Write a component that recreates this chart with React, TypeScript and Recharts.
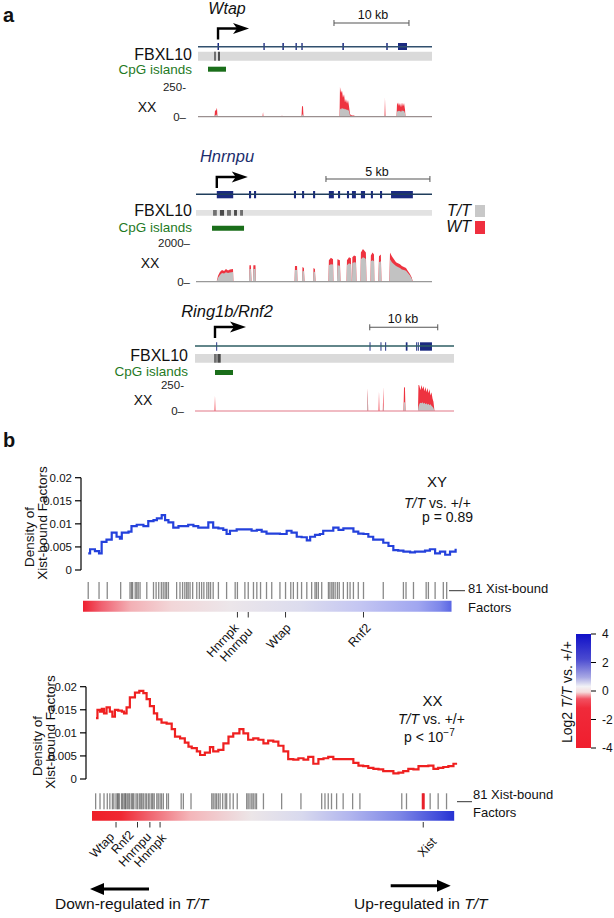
import React from "react";
import {
  ComposedChart,
  AreaChart,
  Area,
  Line,
  Scatter,
  XAxis,
  YAxis,
  ReferenceArea,
  ReferenceLine,
  ReferenceDot,
} from "recharts";

const FONT = "'Liberation Sans', Arial, Helvetica, sans-serif";

// ---------- panel a : gene windows, positions in kb from window start ----------
const wtapExons = [[2.6, 2.8], [8.72, 8.9], [11.25, 11.45], [13.0, 13.18], [13.78, 13.96], [19.25, 19.45], [25.1, 25.3], [26.67, 27.87]];
const wtapFbxl = [[2.13, 2.4], [2.67, 2.93]];
const wtapCpg = [1.33, 3.73];
const wtapPos = [0, 2.2, 2.27, 2.4, 2.53, 2.6, 8.6, 8.67, 8.73, 11.13, 11.2, 11.27, 13.8, 13.87, 14.0, 14.07, 18.87, 18.93, 19.07, 19.2, 19.33, 19.47, 19.6, 19.73, 19.87, 20.0, 20.13, 20.27, 20.53, 20.8, 21.07, 24.87, 24.93, 25.0, 26.47, 26.53, 26.67, 26.8, 26.93, 27.07, 27.2, 27.33, 27.47, 27.6, 27.67, 31.2];
const wtapWT = [0, 0, 55, 50, 75, 0, 0, 40, 0, 0, 12, 0, 0, 90, 85, 0, 0, 250, 200, 220, 160, 190, 120, 150, 110, 140, 90, 20, 10, 10, 0, 0, 160, 0, 0, 100, 120, 90, 115, 80, 120, 85, 115, 60, 0, 0];
const wtapTT = [0, 0, 15, 10, 20, 0, 0, 8, 0, 0, 5, 0, 0, 20, 15, 0, 0, 70, 60, 75, 65, 70, 60, 65, 55, 60, 45, 10, 5, 5, 0, 0, 30, 0, 0, 40, 50, 45, 50, 40, 55, 45, 50, 30, 0, 0];

const hnrnpuExons = [[1.0, 1.79], [2.55, 2.65], [2.79, 2.89], [4.71, 4.81], [5.1, 5.2], [5.63, 5.73], [6.39, 6.63], [6.83, 6.93], [7.26, 7.36], [7.5, 7.69], [7.93, 8.13], [8.41, 8.51], [8.85, 8.95], [9.38, 10.43]];
const hnrnpuFbxl = [[0.82, 1.0], [1.15, 1.35], [1.49, 1.68], [1.83, 1.97], [2.12, 2.26]];
const hnrnpuCpg = [0.77, 2.31];
const hnrnpuPos = [0, 0.99, 1.06, 1.15, 1.25, 1.35, 1.44, 1.54, 1.63, 1.78, 1.8, 2.55, 2.57, 2.64, 2.67, 2.74, 2.76, 2.86, 2.88, 4.74, 4.76, 4.86, 4.88, 5.1, 5.12, 5.19, 5.22, 5.63, 5.65, 5.72, 5.75, 6.37, 6.39, 6.49, 6.59, 6.61, 6.78, 6.8, 6.92, 6.95, 7.24, 7.26, 7.36, 7.45, 7.48, 7.5, 7.52, 7.6, 7.69, 7.72, 7.91, 7.93, 8.03, 8.13, 8.17, 8.2, 8.39, 8.41, 8.49, 8.56, 8.58, 8.77, 8.8, 8.89, 8.92, 9.3, 9.33, 9.42, 9.52, 9.62, 9.71, 9.81, 9.9, 10.0, 10.1, 10.19, 10.29, 10.38, 10.43, 11.35];
const hnrnpuWT = [0, 0, 300, 500, 600, 550, 650, 580, 620, 650, 0, 0, 850, 850, 0, 0, 850, 850, 0, 0, 800, 800, 0, 0, 750, 700, 0, 0, 700, 650, 0, 0, 1100, 1230, 1150, 0, 0, 1150, 1100, 0, 0, 1100, 1250, 1200, 0, 0, 1250, 1350, 1300, 0, 0, 1500, 1680, 1550, 1500, 0, 0, 1350, 1500, 1400, 0, 0, 1300, 1400, 0, 0, 1500, 1300, 1150, 1000, 950, 900, 800, 750, 700, 550, 400, 200, 0, 0];
const hnrnpuTT = [0, 0, 200, 350, 450, 420, 480, 450, 470, 500, 0, 0, 650, 650, 0, 0, 650, 650, 0, 0, 600, 600, 0, 0, 560, 540, 0, 0, 520, 500, 0, 0, 850, 900, 880, 0, 0, 850, 820, 0, 0, 850, 950, 900, 0, 0, 950, 1000, 980, 0, 0, 1150, 1250, 1200, 1150, 0, 0, 1050, 1100, 1050, 0, 0, 1000, 1050, 0, 0, 1150, 1000, 900, 800, 750, 700, 620, 600, 560, 440, 320, 150, 0, 0];

const ring1bExons = [[3.12, 3.26], [25.67, 25.81], [27.28, 27.42], [27.97, 28.11], [31.0, 31.25], [32.53, 32.67], [32.77, 32.91], [33.09, 34.85]];
const ring1bFbxl = [[2.8, 3.2], [3.3, 3.78]];
const ring1bCpg = [2.94, 5.59];
const ring1bPos = [0, 2.87, 2.94, 3.01, 25.32, 25.4, 25.47, 26.99, 27.06, 27.13, 27.62, 27.69, 27.76, 30.66, 30.74, 30.88, 30.96, 32.79, 32.87, 33.01, 33.16, 33.31, 33.46, 33.6, 33.75, 33.9, 34.04, 34.19, 34.34, 34.49, 34.63, 34.78, 34.93, 35.07, 35.22, 38.09];
const ring1bWT = [0, 0, 150, 0, 0, 220, 0, 0, 190, 0, 0, 233, 0, 0, 233, 220, 0, 0, 265, 240, 200, 250, 210, 240, 190, 230, 180, 220, 170, 210, 150, 180, 120, 90, 0, 0];
const ring1bTT = [0, 0, 0, 0, 0, 200, 0, 0, 0, 0, 0, 60, 0, 0, 90, 80, 0, 0, 40, 70, 80, 75, 85, 70, 80, 65, 75, 60, 70, 55, 65, 50, 40, 30, 0, 0];

// ---------- panel b : density along the ranked gene list (0-100 %) ----------
const xyRank = [1.4, 1.9, 3.2, 4.3, 5.0, 6.3, 7.7, 9.0, 9.9, 10.4, 12.2, 13.0, 14.4, 16.2, 17.5, 18.9, 19.8, 21.1, 22.0, 22.9, 24.2, 25.6, 26.9, 28.2, 29.6, 30.9, 32.3, 33.6, 34.9, 36.3, 37.6, 38.5, 39.4, 41.2, 42.5, 43.9, 45.2, 46.6, 47.9, 49.2, 51.0, 52.8, 54.6, 55.9, 57.3, 58.6, 60.0, 60.9, 62.2, 63.5, 64.4, 65.8, 67.1, 68.5, 69.8, 71.1, 72.5, 73.8, 75.2, 76.5, 77.8, 79.2, 80.5, 81.9, 83.2, 84.5, 85.9, 87.7, 89.0, 90.3, 91.7, 93.0, 94.4, 95.7, 97.1, 98.4, 99.9];
const xyDensity = [0.0036, 0.0045, 0.0041, 0.0036, 0.0061, 0.0066, 0.0081, 0.0072, 0.0068, 0.0081, 0.0083, 0.0095, 0.0098, 0.0095, 0.0106, 0.0108, 0.0112, 0.0119, 0.0108, 0.0103, 0.0092, 0.0095, 0.0095, 0.0098, 0.0095, 0.0092, 0.0092, 0.0103, 0.0092, 0.009, 0.0087, 0.0078, 0.0085, 0.0088, 0.0088, 0.0088, 0.0085, 0.0087, 0.0083, 0.0079, 0.0079, 0.0078, 0.0085, 0.0081, 0.0072, 0.0071, 0.0064, 0.0072, 0.0076, 0.0078, 0.0085, 0.0085, 0.0092, 0.0087, 0.009, 0.009, 0.0083, 0.0079, 0.0078, 0.0072, 0.0066, 0.0066, 0.0059, 0.0052, 0.0043, 0.0042, 0.004, 0.0038, 0.004, 0.004, 0.0042, 0.0045, 0.0036, 0.004, 0.0033, 0.004, 0.0046];

const xxRank = [1.1, 1.5, 2.2, 2.7, 3.3, 4.0, 4.9, 5.6, 6.3, 7.2, 8.2, 8.8, 9.5, 10.4, 11.8, 13.0, 14.1, 15.0, 15.9, 17.0, 17.9, 19.1, 20.5, 21.9, 22.8, 24.2, 25.5, 26.5, 27.4, 28.8, 29.7, 31.0, 32.4, 33.3, 34.7, 36.1, 37.5, 38.8, 40.5, 41.6, 42.9, 44.3, 45.7, 47.1, 48.4, 49.8, 51.2, 52.6, 53.9, 55.3, 56.7, 58.1, 59.4, 60.8, 62.2, 63.6, 64.9, 66.3, 67.7, 69.0, 70.4, 71.8, 73.2, 74.5, 75.9, 77.3, 78.7, 80.0, 81.4, 82.8, 84.2, 85.5, 86.9, 88.3, 89.7, 91.0, 92.4, 93.8, 95.1, 96.5, 97.9, 99.3, 100.0];
const xxDensity = [0.0132, 0.015, 0.0146, 0.0152, 0.0142, 0.0155, 0.0146, 0.0135, 0.015, 0.0148, 0.0146, 0.0142, 0.0155, 0.0177, 0.0187, 0.0191, 0.0186, 0.0173, 0.0158, 0.0142, 0.0129, 0.0122, 0.012, 0.0108, 0.0092, 0.0088, 0.0079, 0.007, 0.0067, 0.006, 0.0052, 0.0057, 0.0069, 0.006, 0.0063, 0.0077, 0.0092, 0.0099, 0.0108, 0.0099, 0.0085, 0.0088, 0.0085, 0.0077, 0.0083, 0.0081, 0.0072, 0.006, 0.0043, 0.0042, 0.0045, 0.0042, 0.0048, 0.0033, 0.0043, 0.0045, 0.0048, 0.0043, 0.0043, 0.0043, 0.0043, 0.0035, 0.0029, 0.0028, 0.0024, 0.0022, 0.0021, 0.0017, 0.0017, 0.0012, 0.0014, 0.0017, 0.0022, 0.0021, 0.0028, 0.0028, 0.0029, 0.0022, 0.0024, 0.0026, 0.0028, 0.0033, 0.0035];

// rank (%) of the 81 Xist-bound factors
const xyFactorRanks = [1.4, 4.3, 6.5, 10.1, 12.6, 13.0, 13.3, 14.0, 14.4, 14.8, 15.3, 17.1, 18.9, 19.6, 20.3, 21.0, 21.5, 22.0, 22.4, 22.9, 25.1, 26.0, 26.7, 27.3, 27.8, 28.2, 28.7, 29.4, 30.5, 31.2, 31.8, 32.4, 33.2, 33.7, 34.2, 34.9, 36.3, 38.5, 40.8, 41.4, 43.4, 44.3, 45.7, 46.6, 47.6, 49.2, 50.6, 52.8, 54.3, 55.7, 56.4, 57.5, 58.6, 60.0, 61.3, 62.2, 62.6, 63.1, 64.0, 65.8, 66.2, 66.7, 67.1, 67.6, 68.2, 68.7, 69.8, 70.9, 71.6, 72.5, 73.8, 75.2, 80.5, 85.9, 86.6, 88.6, 92.0, 92.6, 94.4, 96.6, 97.5];
const xxFactorRanks = [1.0, 2.2, 3.3, 4.2, 4.9, 5.6, 6.0, 6.6, 7.0, 7.2, 7.5, 8.1, 8.4, 8.8, 9.1, 9.3, 9.7, 10.1, 10.4, 10.9, 11.2, 11.5, 12.1, 12.5, 13.0, 13.4, 13.7, 14.1, 14.6, 15.0, 15.5, 15.9, 16.4, 16.7, 17.1, 17.8, 18.2, 18.7, 19.1, 19.6, 20.5, 21.0, 24.5, 25.1, 27.2, 32.9, 33.3, 33.8, 34.2, 34.7, 35.2, 35.9, 36.6, 37.0, 37.9, 38.8, 39.9, 42.5, 42.9, 43.4, 43.9, 44.3, 44.8, 45.2, 47.1, 52.1, 57.4, 63.1, 64.0, 64.9, 65.8, 67.2, 69.0, 71.6, 73.6, 85.1, 86.4, 91.0, 92.9, 95.1, 97.4];
const xyGeneNames = ["Hnrnpk", "Hnrnpu", "Wtap", "Rnf2"];
const xyGeneRanks = [41.4, 44.3, 54.3, 75.2];
const xxGeneNames = ["Wtap", "Rnf2", "Hnrnpu", "Hnrnpk", "Xist"];
const xxGeneRanks = [6.6, 12.5, 15.9, 18.7, 91.0];
const xistRank = 91.0;

const colorbarTicks = [-4, -2, 0, 2, 4];

// label offsets (px) from the bottom of each gene tick
const xyLabelShift = [[2, 11], [5, 15], [6, 11], [8, 11]];
const xxLabelShift = [[-1, 10], [-3, 8], [2, 10], [7, 11], [14, 15]];

const Invisible = () => <g />;

// ---------- helpers ----------
function TssArrow(props: any) {
  const { cx, cy } = props;
  const t = cy - 11;
  return (
    <g>
      <path d={`M${cx},${cy} V${t} H${cx + 20}`} stroke="#000" strokeWidth={2.4} fill="none" />
      <path d={`M${cx + 31},${t} L${cx + 15},${t - 5.5} L${cx + 19},${t} L${cx + 15},${t + 5.5} Z`} fill="#000" />
    </g>
  );
}

function GeneModel(p: any) {
  const { top, height, x0, x1, len, rows, exons, fbxl, cpg, tss, scale, lineColor, fbxlShade } = p;
  const anchor = exons.map((e: number[]) => ({ x: (e[0] + e[1]) / 2, y: rows.gene }));
  return (
    <div style={{ position: "absolute", left: 0, top }}>
      <ComposedChart width={614} height={height} data={anchor} margin={{ top: 0, right: 614 - x1, bottom: 0, left: x0 }}>
        <XAxis type="number" dataKey="x" domain={[0, len]} hide />
        <YAxis type="number" dataKey="y" domain={[0, height]} reversed hide width={0} />
        <Scatter dataKey="y" shape={Invisible} isAnimationActive={false} />
        <ReferenceLine segment={[{ x: scale[0], y: rows.scale }, { x: scale[1], y: rows.scale }]} stroke="#555" strokeWidth={1.1} />
        <ReferenceLine segment={[{ x: scale[0], y: rows.scale - 3 }, { x: scale[0], y: rows.scale + 3 }]} stroke="#555" />
        <ReferenceLine segment={[{ x: scale[1], y: rows.scale - 3 }, { x: scale[1], y: rows.scale + 3 }]} stroke="#555" />
        <ReferenceArea x1={0} x2={len} y1={rows.fbxl[0]} y2={rows.fbxl[1]} fill={fbxlShade} fillOpacity={1} />
        {fbxl.map((m: number[], i: number) => (
          <ReferenceArea key={"f" + i} x1={m[0]} x2={m[1]} y1={rows.fbxl[0]} y2={rows.fbxl[1]} fill={i % 2 ? "#4a4a4a" : "#707070"} fillOpacity={1} />
        ))}
        <ReferenceArea x1={cpg[0]} x2={cpg[1]} y1={rows.cpg[0]} y2={rows.cpg[1]} fill="#1a6e1a" fillOpacity={1} />
        <ReferenceLine segment={[{ x: 0, y: rows.gene }, { x: len, y: rows.gene }]} stroke={lineColor} strokeWidth={1.4} />
        {exons.map((e: number[], i: number) => (
          <ReferenceArea key={"e" + i} x1={e[0]} x2={e[1]} y1={rows.exon[0]} y2={rows.exon[1]} fill="#1b2a80" fillOpacity={1} />
        ))}
        <ReferenceDot x={tss} y={rows.arrow} shape={TssArrow} />
      </ComposedChart>
    </div>
  );
}

function Coverage(p: any) {
  const { top, height, mTop, mBottom, x0, x1, len, max, pos, wt, tt, fmtTop, fmtZero, gap, baseColor } = p;
  const data = pos.map((x: number, i: number) => ({ x, wt: wt[i], tt: tt[i] }));
  return (
    <div style={{ position: "absolute", left: 0, top }}>
      <AreaChart width={614} height={height} data={data} margin={{ top: mTop, right: 614 - x1, bottom: mBottom, left: x0 - 40 }}>
        <XAxis type="number" dataKey="x" domain={[0, len]} hide />
        <YAxis
          width={40}
          type="number"
          domain={[0, max]}
          ticks={[0, max]}
          interval={0}
          allowDataOverflow
          tickFormatter={(v: number) => (v === 0 ? fmtZero : fmtTop)}
          axisLine={false}
          tickLine={false}
          tickSize={0}
          tickMargin={gap}
          tick={{ fontSize: 11.5, fill: "#222" }}
        />
        <Area type="linear" dataKey="wt" stroke="none" fill="#ee3340" fillOpacity={1} isAnimationActive={false} />
        <Area type="linear" dataKey="tt" stroke="none" fill="#c2c2c2" fillOpacity={1} isAnimationActive={false} />
        <ReferenceLine y={0} stroke={baseColor} strokeWidth={1.2} />
      </AreaChart>
    </div>
  );
}

function Density(p: any) {
  const { top, height, mTop, mBottom, axisW, pad, xs, ys, color } = p;
  const data = xs.map((x: number, i: number) => ({ x, y: ys[i] }));
  return (
    <div style={{ position: "absolute", left: 0, top }}>
      <ComposedChart width={614} height={height} data={data} margin={{ top: mTop, right: 158, bottom: mBottom, left: 0 }}>
        <XAxis type="number" dataKey="x" domain={[0, 100]} hide padding={{ left: pad, right: 0 }} />
        <YAxis
          width={axisW}
          type="number"
          domain={[0, 0.02]}
          ticks={[0, 0.005, 0.01, 0.015, 0.02]}
          interval={0}
          tickFormatter={(v: number) => String(v)}
          axisLine={{ stroke: "#000", strokeWidth: 1.2 }}
          tickLine={{ stroke: "#000", strokeWidth: 1.2 }}
          tickSize={6}
          tickMargin={3}
          tick={{ fontSize: 11.5, fill: "#111" }}
        />
        <Line type="stepAfter" dataKey="y" stroke={color} strokeWidth={2.2} dot={false} isAnimationActive={false} />
      </ComposedChart>
    </div>
  );
}

function FactorStrip(p: any) {
  const { top, left, ranks, names, geneRanks, shifts, rows, barEnd, gradId, stops, xist } = p;
  const tickData = ranks.map((x: number) => ({ x, y: rows.tick[0] }));
  const geneData = geneRanks.map((x: number, i: number) => ({ x, y: rows.mark, name: names[i], i }));
  const tickLen = rows.tick[1] - rows.tick[0];
  return (
    <div style={{ position: "absolute", left: 0, top }}>
      <ComposedChart width={614} height={95} margin={{ top: 0, right: 158, bottom: 0, left }}>
        <defs>
          <linearGradient id={gradId} x1="0" y1="0" x2="1" y2="0">
            {stops.map((s: any[], i: number) => (
              <stop key={i} offset={s[0]} stopColor={s[1]} />
            ))}
          </linearGradient>
        </defs>
        <XAxis type="number" dataKey="x" domain={[0, 100]} hide />
        <YAxis type="number" dataKey="y" domain={[0, 95]} reversed hide width={0} />
        <ReferenceArea x1={0} x2={barEnd} y1={rows.bar[0]} y2={rows.bar[1]} fill={`url(#${gradId})`} fillOpacity={1} />
        <Scatter
          data={tickData}
          isAnimationActive={false}
          shape={(s: any) => (
            <line x1={s.cx} x2={s.cx} y1={s.cy} y2={s.cy + tickLen} stroke="#3a3a3a" strokeOpacity={0.6} strokeWidth={1.3} />
          )}
        />
        {xist !== undefined && (
          <Scatter
            data={[{ x: xist, y: rows.tick[0] }]}
            isAnimationActive={false}
            shape={(s: any) => (
              <line x1={s.cx} x2={s.cx} y1={s.cy} y2={s.cy + tickLen} stroke="#e8202a" strokeWidth={3} />
            )}
          />
        )}
        <Scatter
          data={geneData}
          isAnimationActive={false}
          shape={(s: any) => {
            const { name, i } = s.payload;
            const ax = s.cx + shifts[i][0];
            const ay = s.cy + 5.5 + shifts[i][1];
            return (
              <g>
                <line x1={s.cx} x2={s.cx} y1={s.cy} y2={s.cy + 5.5} stroke="#333" strokeWidth={1} />
                <text x={ax} y={ay} textAnchor="end" fontSize={12.5} fill="#111" transform={`rotate(-47, ${ax}, ${ay})`}>
                  {name}
                </text>
              </g>
            );
          }}
        />
      </ComposedChart>
    </div>
  );
}

const topStops = [["0%", "#ee2030"], ["5%", "#f06070"], ["13%", "#f3b0b5"], ["24%", "#f2d6d8"], ["40%", "#ece6ea"], ["59%", "#dcdcee"], ["75%", "#c4c6f2"], ["91%", "#a0a6f0"], ["97%", "#7c86ea"], ["100%", "#5a66e4"]];
const bottomStops = [["0%", "#ee1f28"], ["8%", "#f02833"], ["16%", "#f06570"], ["27%", "#f4b5b9"], ["44%", "#ece6e8"], ["58%", "#d8d9ee"], ["71%", "#b2b6ee"], ["85%", "#7d86e6"], ["96%", "#3f4bda"], ["100%", "#2632d2"]];

export default function App() {
  const keyAnchor = colorbarTicks.map((v) => ({ x: 0.5, y: v }));
  return (
    <div style={{ position: "absolute", left: 0, top: 0, width: 614, height: 918, background: "#fff", fontFamily: FONT, overflow: "hidden" }}>
      {/* panel a */}
      <GeneModel
        top={0} height={75} x0={198} x1={432} len={31.2}
        rows={{ scale: 23, arrow: 39.5, gene: 46.7, exon: [43, 50], fbxl: [51.7, 60.7], cpg: [66.7, 71.7] }}
        exons={wtapExons} fbxl={wtapFbxl} cpg={wtapCpg} tss={2.67} scale={[18.13, 28.13]}
        lineColor="#31506e" fbxlShade="#dadada"
      />
      <Coverage top={80} height={45} mTop={7} mBottom={8.3} x0={198} x1={432} len={31.2} max={250}
        pos={wtapPos} wt={wtapWT} tt={wtapTT} fmtTop="250-" fmtZero="0–" gap={12} baseColor="#9a8f8f" />

      <GeneModel
        top={130} height={105} x0={196} x1={432} len={11.35}
        rows={{ scale: 49, arrow: 58, gene: 64.3, exon: [61, 68.3], fbxl: [80, 85.7], cpg: [95.7, 100.7] }}
        exons={hnrnpuExons} fbxl={hnrnpuFbxl} cpg={hnrnpuCpg} tss={1.0} scale={[6.25, 11.25]}
        lineColor="#1f3d5c" fbxlShade="#e2e2e2"
      />
      <Coverage top={235} height={55} mTop={7.7} mBottom={8.3} x0={196} x1={432} len={11.35} max={2000}
        pos={hnrnpuPos} wt={hnrnpuWT} tt={hnrnpuTT} fmtTop="2000–" fmtZero="0–" gap={6} baseColor="#999" />

      <GeneModel
        top={290} height={90} x0={195} x1={454} len={38.09}
        rows={{ scale: 37.3, arrow: 48, gene: 56, exon: [52.3, 60.7], fbxl: [64, 72.7], cpg: [80, 85] }}
        exons={ring1bExons} fbxl={ring1bFbxl} cpg={ring1bCpg} tss={2.94} scale={[25.7, 35.7]}
        lineColor="#2e5e63" fbxlShade="#dadada"
      />
      <Coverage top={378} height={41} mTop={7} mBottom={8} x0={195} x1={454} len={38.09} max={250}
        pos={ring1bPos} wt={ring1bWT} tt={ring1bTT} fmtTop="250-" fmtZero="0–" gap={11} baseColor="#e27887" />

      {/* panel b */}
      <Density top={470} height={105} mTop={7.7} mBottom={5} axisW={81} pad={2} xs={xyRank} ys={xyDensity} color="#2441dc" />
      <FactorStrip top={575} left={83} ranks={xyFactorRanks} names={xyGeneNames} geneRanks={xyGeneRanks} shifts={xyLabelShift}
        rows={{ tick: [7, 24], bar: [25.7, 36.7], mark: 37 }} barEnd={98.8} gradId="gTop" stops={topStops} />

      <Density top={680} height={104} mTop={6.7} mBottom={5} axisW={86} pad={6} xs={xxRank} ys={xxDensity} color="#ef2020" />
      <FactorStrip top={785} left={92} ranks={xxFactorRanks} names={xxGeneNames} geneRanks={xxGeneRanks} shifts={xxLabelShift}
        rows={{ tick: [8.3, 24.3], bar: [26, 35.7], mark: 37 }} barEnd={99.5} gradId="gBottom" stops={bottomStops}
        xist={xistRank} />

      {/* colour key */}
      <div style={{ position: "absolute", left: 540, top: 620 }}>
        <ComposedChart width={74} height={145} data={keyAnchor} margin={{ top: 14, right: 0, bottom: 17, left: 36 }}>
          <defs>
            <linearGradient id="gKey" x1="0" y1="0" x2="0" y2="1">
              <stop offset="0%" stopColor="#1010c8" />
              <stop offset="22%" stopColor="#4a4ad0" />
              <stop offset="38%" stopColor="#a8a8e4" />
              <stop offset="46%" stopColor="#f2f2f6" />
              <stop offset="51%" stopColor="#f6dcdc" />
              <stop offset="57%" stopColor="#f25060" />
              <stop offset="65%" stopColor="#f02a3a" />
              <stop offset="100%" stopColor="#f01e2e" />
            </linearGradient>
          </defs>
          <XAxis type="number" dataKey="x" domain={[0, 1]} hide />
          <YAxis orientation="right" type="number" dataKey="y" domain={[-4, 4]} ticks={colorbarTicks} interval={0} width={23}
            axisLine={false} tickSize={5} tickMargin={6} tickLine={{ stroke: "#000" }} tick={{ fontSize: 12, fill: "#111" }} />
          <ReferenceArea x1={0} x2={1} y1={-4} y2={4} fill="url(#gKey)" fillOpacity={1} />
          <Scatter dataKey="y" shape={Invisible} isAnimationActive={false} />
        </ComposedChart>
      </div>

      {/* text and annotation layer */}
      <svg width={614} height={918} style={{ position: "absolute", left: 0, top: 0, pointerEvents: "none" }} fontFamily={FONT} fill="#111">
        <text x={3} y={22} fontSize={20} fontWeight="bold">a</text>
        <text x={3} y={447} fontSize={20} fontWeight="bold">b</text>

        <text x={227} y={14} textAnchor="middle" fontSize={16} fontStyle="italic">Wtap</text>
        <text x={373} y={19} textAnchor="middle" fontSize={12.5}>10 kb</text>
        <text x={192} y={60} textAnchor="end" fontSize={16}>FBXL10</text>
        <text x={192} y={73.5} textAnchor="end" fontSize={13.5} fill="#1f7a1f">CpG islands</text>
        <text x={147} y={111.7} textAnchor="middle" fontSize={14}>XX</text>

        <text x={227} y={162} textAnchor="middle" fontSize={16.5} fontStyle="italic" fill="#1c2e6e">Hnrnpu</text>
        <text x={377} y={175.5} textAnchor="middle" fontSize={12.5}>5 kb</text>
        <text x={192} y={216} textAnchor="end" fontSize={16}>FBXL10</text>
        <text x={192} y={231.7} textAnchor="end" fontSize={13.5} fill="#1f7a1f">CpG islands</text>
        <text x={150} y={268.3} textAnchor="middle" fontSize={14}>XX</text>
        <text x={471} y={216} textAnchor="end" fontSize={16} fontStyle="italic">T/T</text>
        <rect x={475} y={205} width={10} height={12} fill="#c8c8c8" />
        <text x={471} y={232} textAnchor="end" fontSize={16} fontStyle="italic">WT</text>
        <rect x={475} y={221} width={10} height={13} fill="#ef2f3f" />

        <text x={227} y={316.7} textAnchor="middle" fontSize={16.5} fontStyle="italic">Ring1b/Rnf2</text>
        <text x={403} y={323} textAnchor="middle" fontSize={12.5}>10 kb</text>
        <text x={188} y={361} textAnchor="end" fontSize={16}>FBXL10</text>
        <text x={188} y={375.7} textAnchor="end" fontSize={13.5} fill="#1f7a1f">CpG islands</text>
        <text x={143} y={405} textAnchor="middle" fontSize={14}>XX</text>

        <text transform="translate(34,537) rotate(-90)" textAnchor="middle" fontSize={13.5}>Density of</text>
        <text transform="translate(47,523) rotate(-90)" textAnchor="middle" fontSize={13.5}>Xist-bound Factors</text>
        <text x={437} y={486.7} textAnchor="middle" fontSize={15}>XY</text>
        <text x={404} y={507.5} fontSize={14}><tspan fontStyle="italic">T/T</tspan> vs. +/+</text>
        <text x={473} y={522} textAnchor="end" fontSize={14}>p = 0.89</text>
        <line x1={449} x2={465} y1={590.7} y2={590.7} stroke="#333" strokeWidth={1} />
        <text x={468} y={593} fontSize={13}>81 Xist-bound</text>
        <text x={468} y={611.7} fontSize={13}>Factors</text>

        <text transform="translate(42,746) rotate(-90)" textAnchor="middle" fontSize={13.5}>Density of</text>
        <text transform="translate(55,732) rotate(-90)" textAnchor="middle" fontSize={13.5}>Xist-bound Factors</text>
        <text x={432.5} y={706} textAnchor="middle" fontSize={15}>XX</text>
        <text x={398} y={724} fontSize={14}><tspan fontStyle="italic">T/T</tspan> vs. +/+</text>
        <text x={404} y={742} fontSize={14}>p &lt; 10<tspan dy={-6} fontSize={10}>−7</tspan></text>
        <line x1={457} x2={472} y1={801.7} y2={801.7} stroke="#333" strokeWidth={1} />
        <text x={473} y={799.3} fontSize={13}>81 Xist-bound</text>
        <text x={473} y={816.7} fontSize={13}>Factors</text>

        <text transform="translate(572,692) rotate(-90)" textAnchor="middle" fontSize={14}>
          Log2 <tspan fontStyle="italic">T/T</tspan> vs. +/+
        </text>

        <line x1={149} x2={100} y1={889} y2={889} stroke="#000" strokeWidth={3} />
        <polygon points="90,889 104,883 104,895" fill="#000" />
        <line x1={390.7} x2={440} y1={885.7} y2={885.7} stroke="#000" strokeWidth={3} />
        <polygon points="450.7,885.7 437,879.7 437,891.7" fill="#000" />
        <text x={55} y={909} fontSize={15.5}>Down-regulated in <tspan fontStyle="italic">T/T</tspan></text>
        <text x={354} y={909} fontSize={15.5}>Up-regulated in <tspan fontStyle="italic">T/T</tspan></text>
      </svg>
    </div>
  );
}
